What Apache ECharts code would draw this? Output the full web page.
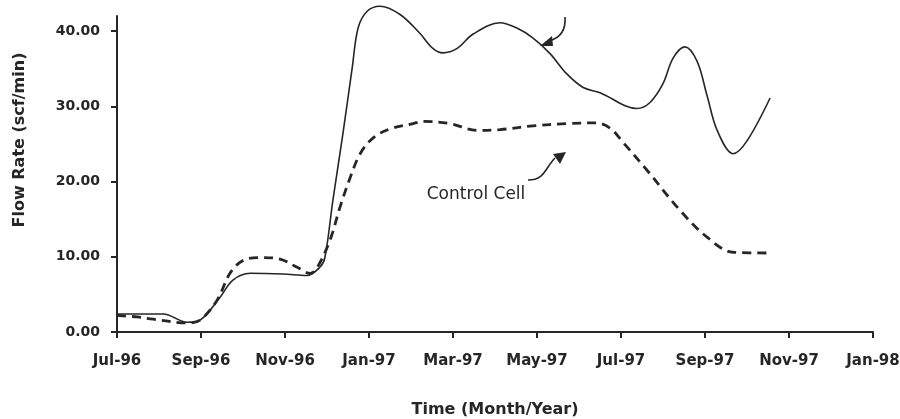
<!DOCTYPE html>
<html>
<head>
<meta charset="utf-8">
<title>Flow Rate</title>
<script src="https://cdn.jsdelivr.net/npm/echarts@6/dist/echarts.min.js"></script>
<style>
  html, body { margin: 0; padding: 0; background: #fff; }
  #chart { width: 900px; height: 419px; }
</style>
</head>
<body>
<div id="chart"></div>
<script>
// x = months since Jul-96
var monthLabels = ['Jul-96', 'Sep-96', 'Nov-96', 'Jan-97', 'Mar-97', 'May-97', 'Jul-97', 'Sep-97', 'Nov-97', 'Jan-98']
var flowTicks = [0, 10, 20, 30, 40]

var testMonths = [0, 1.1, 1.67, 1.98, 2.45, 2.76, 3.17, 3.95, 4.52, 4.83, 4.95, 5.14, 5.38, 5.6, 5.74, 5.95, 6.26, 6.74, 7.21, 7.52, 7.76, 8.1, 8.48, 9.12, 9.52, 9.9, 10.31, 10.71, 11.1, 11.5, 12.38, 12.69, 13.0, 13.24, 13.52, 13.81, 14.05, 14.29, 14.67, 15.0, 15.55]
var testFlow = [2.4, 2.4, 1.3, 1.6, 4.6, 6.9, 7.8, 7.7, 7.5, 8.6, 9.9, 17.5, 26.4, 35.1, 40.4, 42.6, 43.3, 42.2, 39.7, 37.7, 37.1, 37.7, 39.6, 41.1, 40.4, 39.1, 37.0, 34.3, 32.5, 31.8, 29.7, 30.5, 33.0, 36.4, 37.9, 36.0, 31.4, 26.8, 23.7, 25.4, 31.1]

var controlMonths = [0, 0.48, 0.86, 1.67, 1.98, 2.38, 2.69, 3.0, 3.4, 3.88, 4.29, 4.6, 4.76, 5.07, 5.31, 5.55, 5.79, 6.1, 6.5, 7.05, 7.29, 7.93, 8.57, 9.12, 9.9, 10.71, 11.4, 11.74, 12.05, 12.62, 13.4, 14.05, 14.67, 15.6]
var controlFlow = [2.2, 2.0, 1.7, 1.2, 1.6, 4.2, 7.8, 9.5, 9.9, 9.7, 8.6, 7.8, 8.5, 12.2, 16.6, 20.5, 23.7, 25.8, 27.0, 27.7, 28.0, 27.7, 26.8, 26.9, 27.4, 27.7, 27.8, 27.1, 25.2, 21.5, 16.2, 12.6, 10.6, 10.5]

function pairs(xs, ys) {
  return xs.map(function(x, i) { return [x, ys[i]] })
}

var ink = '#262626'
var chart = echarts.init(document.getElementById('chart'))

chart.setOption({
  backgroundColor: '#fff',
  animation: false,
  grid: { left: 117, right: 27, top: 16, bottom: 87, containLabel: false, outerBoundsMode: 'none' },
  xAxis: {
    type: 'value',
    min: 0,
    max: 18,
    interval: 2,
    name: 'Time (Month/Year)',
    nameLocation: 'middle',
    nameGap: 70,
    nameTextStyle: { fontFamily: 'DejaVu Sans', fontWeight: 'bold', fontSize: 16, color: ink },
    axisLine: { lineStyle: { color: ink, width: 2 } },
    axisTick: { length: 6, lineStyle: { color: ink, width: 2 } },
    axisLabel: {
      margin: 22,
      fontFamily: 'DejaVu Sans',
      fontWeight: 'bold',
      fontSize: 15,
      color: ink,
      formatter: function(v) { return monthLabels[Math.round(v / 2)] }
    },
    splitLine: { show: false }
  },
  yAxis: {
    type: 'value',
    min: 0,
    max: 42,
    axisLine: { show: true, lineStyle: { color: ink, width: 2 } },
    axisTick: { show: true, length: 6, customValues: flowTicks, lineStyle: { color: ink, width: 2 } },
    axisLabel: {
      margin: 17,
      customValues: flowTicks,
      fontFamily: 'DejaVu Sans',
      fontWeight: 'bold',
      fontSize: 14,
      color: ink,
      formatter: function(v) { return v.toFixed(2) }
    },
    splitLine: { show: false }
  },
  series: [
    {
      name: 'Test Cell',
      type: 'line',
      data: pairs(testMonths, testFlow),
      smooth: 0.35,
      symbol: 'none',
      clip: false,
      lineStyle: { color: ink, width: 1.6 }
    },
    {
      name: 'Control Cell',
      type: 'line',
      data: pairs(controlMonths, controlFlow),
      smooth: 0.35,
      symbol: 'none',
      clip: false,
      lineStyle: { color: ink, width: 2.8, type: [9, 6] }
    }
  ],
  graphic: [
    {
      type: 'text',
      x: 20,
      y: 140,
      rotation: Math.PI / 2,
      style: {
        text: 'Flow Rate (scf/min)',
        fill: ink,
        font: 'bold 16px "DejaVu Sans"',
        textAlign: 'center',
        textVerticalAlign: 'middle'
      }
    },
    {
      type: 'text',
      x: 476,
      y: 195,
      style: {
        text: 'Control Cell',
        fill: ink,
        font: '17px "DejaVu Sans"',
        textAlign: 'center',
        textVerticalAlign: 'middle'
      }
    },
    // arrow pointing at the solid line
    {
      type: 'bezierCurve',
      shape: { x1: 565, y1: 17, cpx1: 566, cpy1: 30, cpx2: 560, cpy2: 38, x2: 549, y2: 41 },
      style: { stroke: ink, lineWidth: 1.6, fill: null }
    },
    {
      type: 'polygon',
      shape: { points: [[540, 46], [552, 36], [553, 46]] },
      style: { fill: ink }
    },
    // arrow pointing at the dashed line
    {
      type: 'bezierCurve',
      shape: { x1: 528, y1: 180, cpx1: 545, cpy1: 180, cpx2: 545, cpy2: 168, x2: 555, y2: 158 },
      style: { stroke: ink, lineWidth: 1.6, fill: null }
    },
    {
      type: 'polygon',
      shape: { points: [[566, 152], [553, 154], [560, 164]] },
      style: { fill: ink }
    }
  ]
})
</script>
</body>
</html>
